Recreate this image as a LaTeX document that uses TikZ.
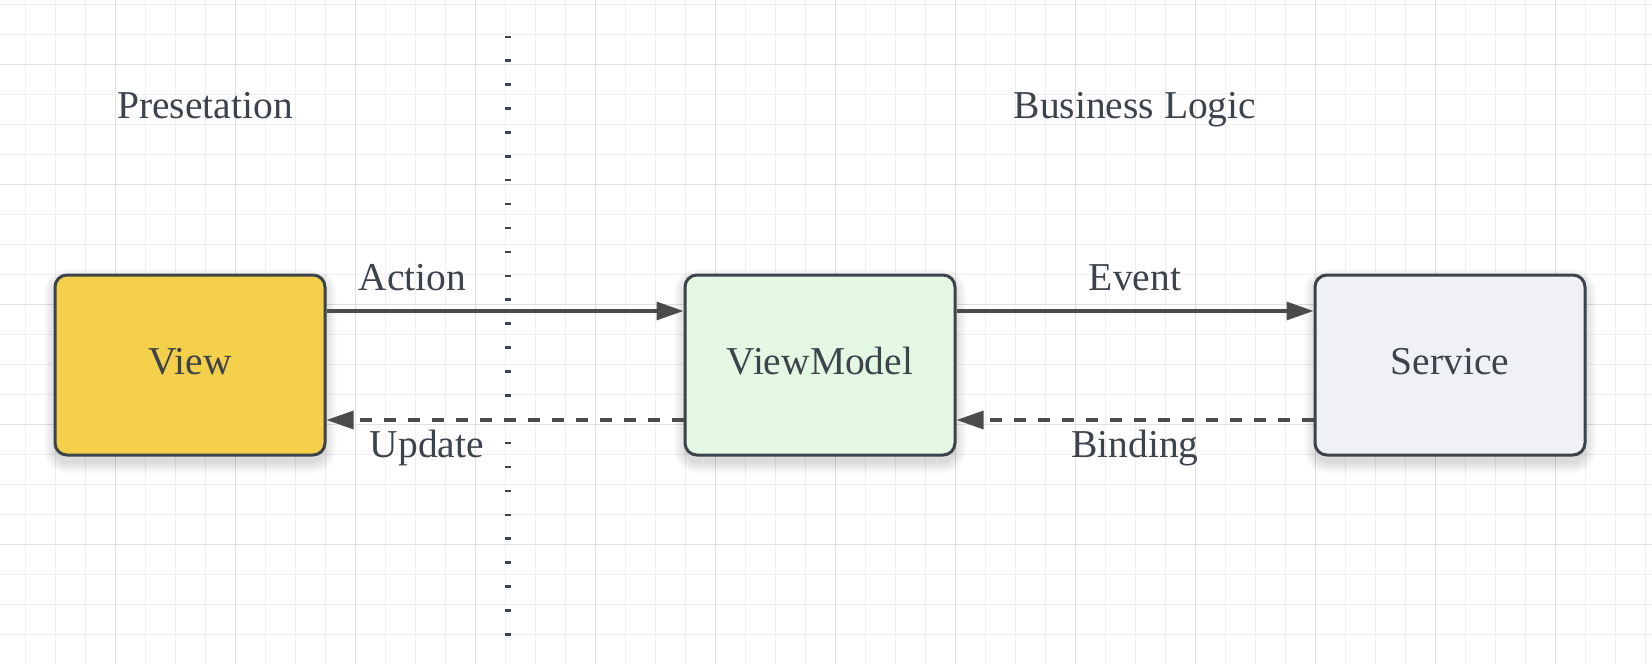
\documentclass[tikz,border=0pt]{standalone}
\usepackage{fontspec}
\setmainfont{Liberation Serif}
\usetikzlibrary{arrows.meta,calc}
\pgfdeclarelayer{bg}
\pgfsetlayers{bg,main}
\definecolor{txt}{HTML}{3C434C}
\definecolor{boxline}{HTML}{3D434B}
\definecolor{arrowc}{HTML}{4B4B4B}
\definecolor{viewfill}{HTML}{F3CF4A}
\definecolor{vmfill}{HTML}{E4F7E2}
\definecolor{svcfill}{HTML}{F0F1F4}
\definecolor{gridminor}{HTML}{EFEFEF}
\definecolor{gridmajor}{HTML}{E0E0E0}
\tikzset{
  bigfont/.style={font=\fontsize{39.5pt}{47pt}\selectfont},
  box/.style={draw=boxline, line width=3pt, rounded corners=12pt,
    minimum width=270pt, minimum height=180pt, inner sep=0pt,
    text height=18.6pt, text depth=0pt, bigfont, text=txt},
  lbl/.style={bigfont, text=txt, inner sep=0pt, anchor=base},
  arr/.style={draw=arrowc, line width=3.2pt,
    -{Triangle[length=27pt,width=18pt]}},
  darr/.style={arr, dash pattern=on 12pt off 12pt},
  divider/.style={draw=boxline, line width=5.5pt, dash pattern=on 2.5pt off 21.4pt}
}
\begin{document}
\begin{tikzpicture}[x=1pt,y=-1pt]
\useasboundingbox (0,0) rectangle (1652,664);

% boxes
\node[box, fill=viewfill] (view) at (190,365) {View};
\node[box, fill=vmfill]   (vm)   at (820,365) {ViewModel};
\node[box, fill=svcfill]  (svc)  at (1450,365) {Service};

% section titles
\node[lbl] (pres) at (205,118) {Presetation};
\node[lbl] (biz)  at (1135,118) {Business Logic};

% divider
\coordinate (divtop) at (508,35.5);
\coordinate (divbot) at (508,636);
\draw[divider] (divtop) -- (divbot);

% connectors
\draw[arr]  ([yshift=54pt]view.east) -- ([yshift=54pt]vm.west);
\draw[darr] ([yshift=-55pt]vm.west) -- ([yshift=-55pt]view.east);
\draw[arr]  ([yshift=54pt]vm.east) -- ([yshift=54pt]svc.west);
\draw[darr] ([yshift=-55pt]svc.west) -- ([yshift=-55pt]vm.east);

% connector labels
\node[lbl] (action)  at (412.5,290) {Action};
\node[lbl] (update)  at (427,457) {Update};
\node[lbl] (event)   at (1135,290) {Event};
\node[lbl] (binding) at (1135,457.5) {Binding};

\begin{pgfonlayer}{bg}
  \fill[white] (0,0) rectangle (1652,664);
  \foreach \k in {0,...,54} {
    \draw[gridminor, line width=1pt] (25.3+30*\k,0) -- (25.3+30*\k,664);
  }
  \foreach \k in {0,...,22} {
    \draw[gridminor, line width=1pt] (0,4+30*\k) -- (1652,4+30*\k);
  }
  \foreach \k in {0,...,12} {
    \draw[gridmajor, line width=1pt] (115.3+120*\k,0) -- (115.3+120*\k,664);
  }
  \foreach \k in {0,...,4} {
    \draw[gridmajor, line width=1pt] (0,64+120*\k) -- (1652,64+120*\k);
  }
  \foreach \n in {view,vm,svc} {
    \foreach \i in {1,...,12} {
      \pgfmathsetmacro{\r}{12+\i}
      \fill[black, opacity=0.012, rounded corners=\r pt]
        ($(\n.north west)+(-\i+2,-\i+7)$) rectangle ($(\n.south east)+(\i-2,\i+5)$);
    }
  }
\end{pgfonlayer}
\end{tikzpicture}
\end{document}
